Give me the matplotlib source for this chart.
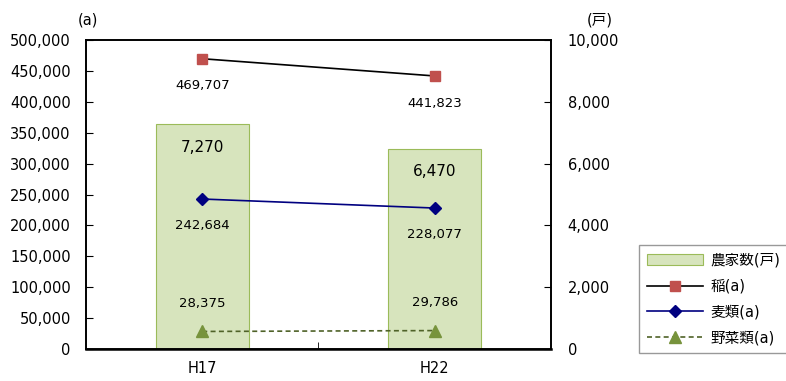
import matplotlib
matplotlib.use("Agg")
import matplotlib.pyplot as plt
from matplotlib.ticker import FuncFormatter, MultipleLocator

plt.rcParams['font.family'] = ['DejaVu Sans', 'Noto Sans CJK JP']

categories = ["H17", "H22"]
farms = [7270, 6470]            # 農家数(戸), right axis
rice = [469707, 441823]         # 稲(a)
wheat = [242684, 228077]        # 麦類(a)
veg = [28375, 29786]            # 野菜類(a)

fig = plt.figure(figsize=(7.86, 3.81), dpi=100)
ax = fig.add_axes([0.1094, 0.084, 0.5916, 0.811])
ax2 = ax.twinx()
ax.set_zorder(ax2.get_zorder() + 1)
ax.patch.set_visible(False)

x = [0, 1]
bars = ax2.bar(x, farms, width=0.4, color="#d7e4bd", edgecolor="#9bbb59", linewidth=0.8,
               label="農家数(戸)")
l1, = ax.plot(x, rice, color="black", lw=1.2, marker="s", ms=7, mfc="#c0504d", mec="#c0504d",
              label="稲(a)")
l2, = ax.plot(x, wheat, color="#000080", lw=1.2, marker="D", ms=6, mfc="#000080", mec="#000080",
              label="麦類(a)")
l3, = ax.plot(x, veg, color="#4f6228", lw=1.2, ls=(0, (3, 2)), marker="^", ms=9,
              mfc="#77933c", mec="#77933c", label="野菜類(a)")

fmt = FuncFormatter(lambda v, p: f"{int(v):,}")
ax.set_xlim(-0.5, 1.5)
ax.set_ylim(0, 500000)
ax2.set_ylim(0, 10000)
ax.yaxis.set_major_locator(MultipleLocator(50000))
ax2.yaxis.set_major_locator(MultipleLocator(2000))
ax.yaxis.set_major_formatter(fmt)
ax2.yaxis.set_major_formatter(fmt)
ax.set_xticks(x)
ax.set_xticklabels(categories)
ax.set_xticks([0.5], minor=True)
ax.tick_params(axis="x", which="major", length=0, pad=9, labelsize=10.5)
ax.tick_params(axis="x", which="minor", direction="in", length=5)
ax.tick_params(axis="y", direction="in", length=5, labelsize=10.5, pad=11)
ax2.tick_params(axis="y", direction="in", length=5, labelsize=10.5, pad=12)
for a in (ax, ax2):
    for s in a.spines.values():
        s.set_linewidth(1.2)
ax2.spines["bottom"].set_linewidth(1.8)

for i in x:
    ax.annotate(f"{rice[i]:,}", (i, rice[i]), xytext=(0, -19.5), textcoords="offset points",
                ha="center", va="center", fontsize=9.5)
    ax.annotate(f"{wheat[i]:,}", (i, wheat[i]), xytext=(0, -19), textcoords="offset points",
                ha="center", va="center", fontsize=9.5)
    ax.annotate(f"{veg[i]:,}", (i, veg[i]), xytext=(0, 20), textcoords="offset points",
                ha="center", va="center", fontsize=9.5)
    ax2.annotate(f"{farms[i]:,}", (i, farms[i]), xytext=(0, -16.5), textcoords="offset points",
                 ha="center", va="center", fontsize=11)

fig.text(0.112, 0.948, "(a)", ha="center", va="center", fontsize=10.5)
fig.text(0.763, 0.948, "(戸)", ha="center", va="center", fontsize=10.5)

leg = fig.legend([bars, l1, l2, l3], ["農家数(戸)", "稲(a)", "麦類(a)", "野菜類(a)"],
                 loc="upper left", bbox_to_anchor=(0.804, 0.375), frameon=True, fancybox=False,
                 edgecolor="#808080", fontsize=10.5, handlelength=3.9, borderpad=0.5,
                 labelspacing=0.75, handletextpad=0.5)
leg.get_frame().set_linewidth(1.0)

fig.savefig("out.png", dpi=100)
